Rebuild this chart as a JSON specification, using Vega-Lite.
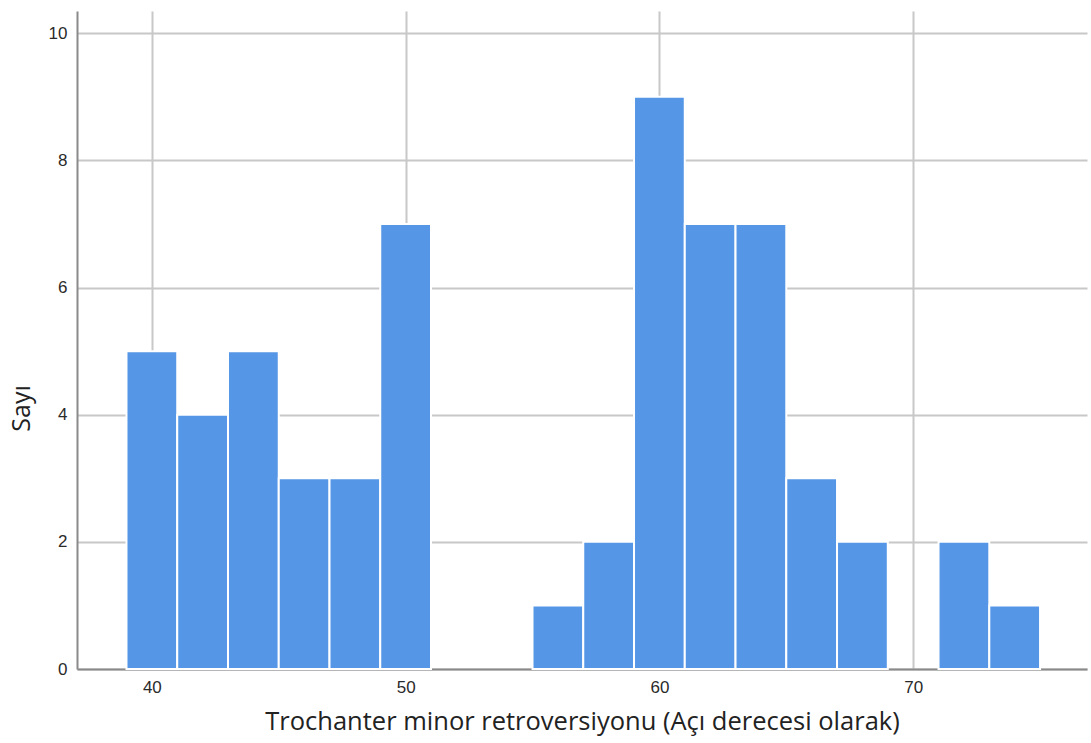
{
  "$schema": "https://vega.github.io/schema/vega-lite/v6.json",
  "autosize": {"type": "none"},
  "padding": {"left": 77, "top": 11, "right": 4, "bottom": 74},
  "width": 1010,
  "height": 658,
  "background": "white",
  "config": {"view": {"stroke": null}},
  "data": {"values": [
    {"bin_start": 39, "bin_end": 41, "count": 5},
    {"bin_start": 41, "bin_end": 43, "count": 4},
    {"bin_start": 43, "bin_end": 45, "count": 5},
    {"bin_start": 45, "bin_end": 47, "count": 3},
    {"bin_start": 47, "bin_end": 49, "count": 3},
    {"bin_start": 49, "bin_end": 51, "count": 7},
    {"bin_start": 55, "bin_end": 57, "count": 1},
    {"bin_start": 57, "bin_end": 59, "count": 2},
    {"bin_start": 59, "bin_end": 61, "count": 9},
    {"bin_start": 61, "bin_end": 63, "count": 7},
    {"bin_start": 63, "bin_end": 65, "count": 7},
    {"bin_start": 65, "bin_end": 67, "count": 3},
    {"bin_start": 67, "bin_end": 69, "count": 2},
    {"bin_start": 71, "bin_end": 73, "count": 2},
    {"bin_start": 73, "bin_end": 75, "count": 1}
  ]},
  "mark": {"type": "rect", "color": "#5596E6", "stroke": "white", "strokeWidth": 2},
  "encoding": {
    "x": {
      "field": "bin_start", "type": "quantitative",
      "scale": {"domain": [37.05, 76.85], "nice": false, "zero": false},
      "axis": {
        "title": "Trochanter minor retroversiyonu (Açı derecesi olarak)",
        "values": [40, 50, 60, 70],
        "grid": true, "gridColor": "#c8c8c8", "gridWidth": 2,
        "domainColor": "#8a8a8a", "domainWidth": 2,
        "ticks": false, "labelPadding": 10,
        "labelFont": "Liberation Sans", "labelFontSize": 17, "labelColor": "#2a2a2a",
        "titleFont": "Open Sans", "titleFontSize": 25.5, "titleFontWeight": "normal", "titleColor": "#222222",
        "titlePadding": 14
      }
    },
    "x2": {"field": "bin_end"},
    "y": {
      "field": "count", "type": "quantitative",
      "scale": {"domain": [0, 10.35], "nice": false},
      "axis": {
        "title": "Sayı",
        "values": [0, 2, 4, 6, 8, 10],
        "grid": true, "gridColor": "#c8c8c8", "gridWidth": 2,
        "domainColor": "#8a8a8a", "domainWidth": 2,
        "ticks": false, "labelPadding": 10,
        "labelFont": "Liberation Sans", "labelFontSize": 17, "labelColor": "#2a2a2a",
        "titleFont": "Open Sans", "titleFontSize": 25, "titleFontWeight": "normal", "titleColor": "#222222",
        "titleY": 397, "titlePadding": 14
      }
    },
    "y2": {"datum": 0}
  }
}
